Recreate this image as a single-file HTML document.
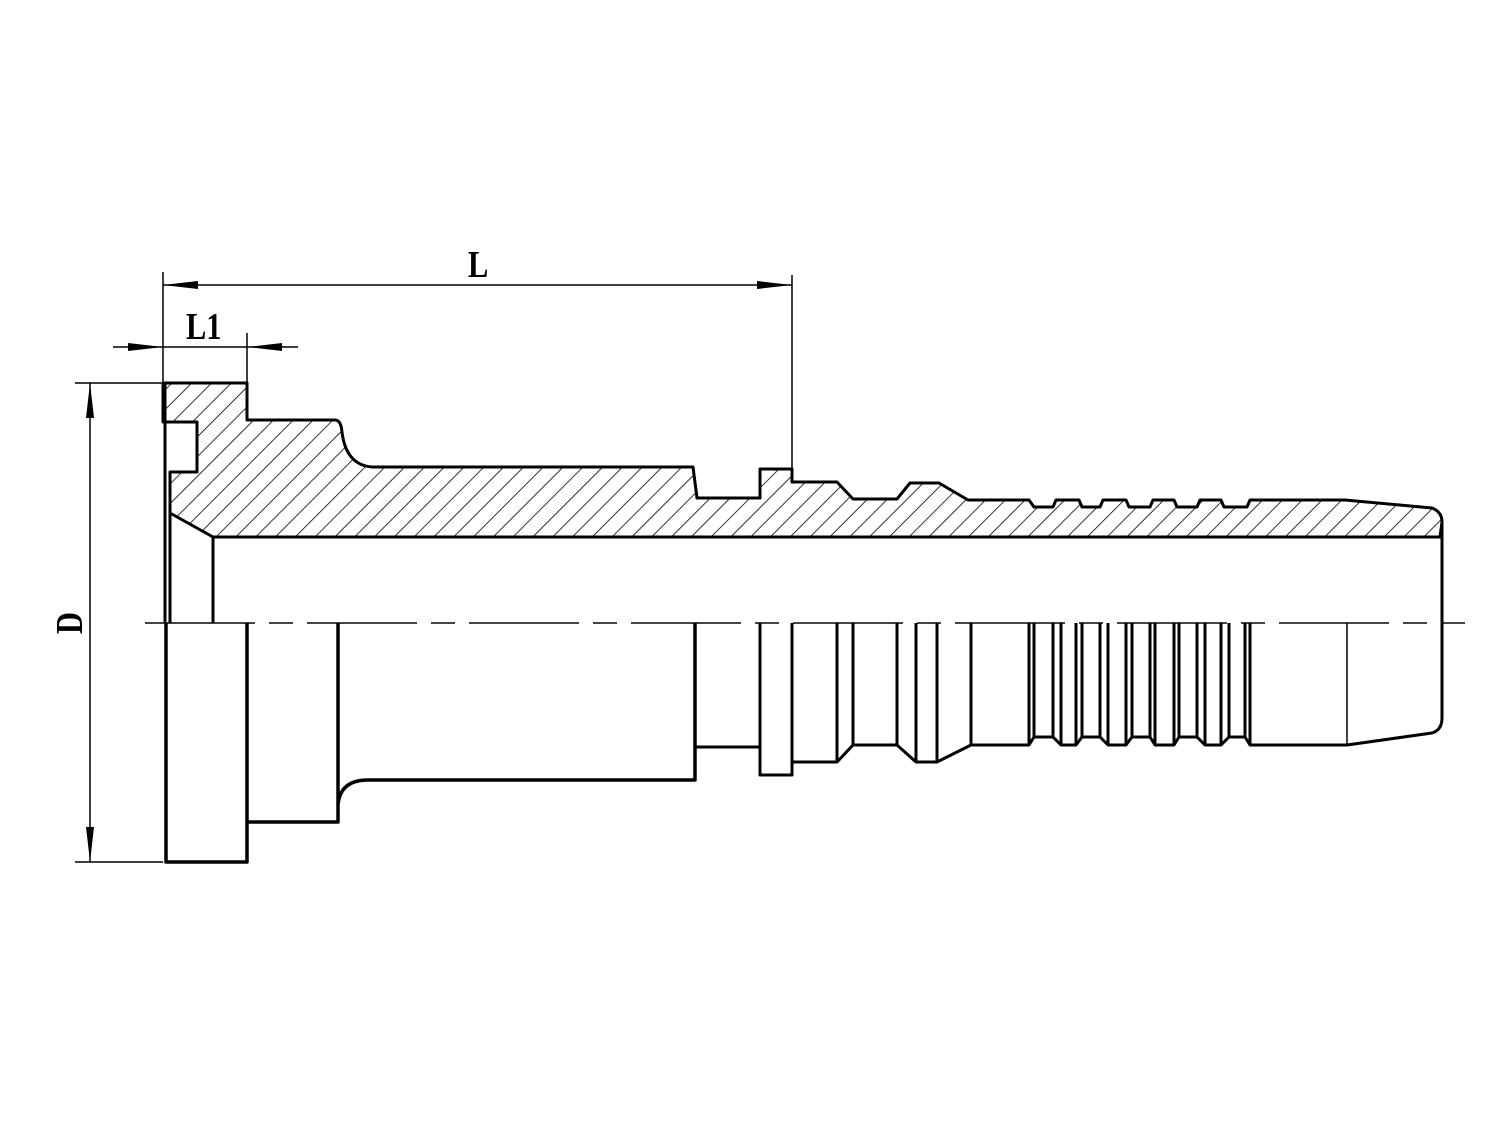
<!DOCTYPE html>
<html><head><meta charset="utf-8"><style>html,body{margin:0;padding:0;background:#fff}svg{display:block}</style></head><body>
<svg width="1500" height="1137" viewBox="0 0 1500 1137" xmlns="http://www.w3.org/2000/svg">
<defs>
<pattern id="h" patternUnits="userSpaceOnUse" width="14" height="14" patternTransform="rotate(45)">
<line x1="0" y1="0" x2="0" y2="14" stroke="#000" stroke-width="1.6"/>
</pattern>
</defs>
<g fill="none" stroke="#000" stroke-linejoin="round">
<path d="M145,623 H1465" stroke="#444" stroke-width="2" stroke-dasharray="110,14,24,14"/>
<path d="M163,383 L247,383 L247,420 L335,420 Q341,420 342,432 Q346,465 372,467 L693,467 L697,498 L760,498 L760,469 L792,469 L792,482 L837,482 L853,499 L897,499 L910,483 L939,483 L968,500 L1029,500 L1034,507 L1053,507 L1056,500 L1079,500 L1082,507 L1100,507 L1103,500 L1126,500 L1129,507 L1150,507 L1153,500 L1174,500 L1177,507 L1197,507 L1200,500 L1221,500 L1224,507 L1247,507 L1250,500 L1345,500 L1432,508 Q1442,512 1442,522 L1440,537 L213,537 L170,513 L170,472 L197,472 L197,422 L163,422 Z" fill="url(#h)" stroke-width="3"/>
<path d="M165,383 V623 M170,472 V623 M213,537 V623 M1442,522 V623" stroke-width="3"/>
<path d="M166,623 V862 H247 V623 M247,822 H338 V623 M338,805 Q340,780 368,780 H695 V623" stroke-width="3.5"/>
<path d="M695,747 H760 M760,623 V775 H792 V623 M792,762 H837 L853,745 H897 L916,762 H937 L971,745 H1029 L1034,737 H1053 L1061,745 H1076 L1082,737 H1100 L1108,745 H1126 L1132,737 H1150 L1155,745 H1174 L1179,737 H1197 L1205,745 H1221 L1229,737 H1245 L1250,745 H1347 L1432,733 Q1442,730 1442,718 V623" stroke-width="3"/>
<path d="M837,623V762 M853,623V745 M897,623V745 M916,623V762 M937,623V762 M971,623V745 M1029,623V745 M1034,623V737 M1053,623V737 M1061,623V745 M1076,623V745 M1082,623V737 M1100,623V737 M1108,623V745 M1126,623V745 M1132,623V737 M1150,623V737 M1155,623V745 M1174,623V745 M1179,623V737 M1197,623V737 M1205,623V745 M1221,623V745 M1229,623V737 M1245,623V737 M1250,623V745" stroke-width="3"/>
<path d="M1347,623V745" stroke-width="1.5"/>
<path d="M163,272V383 M792,275V469 M163,285H792 M113,347H298 M247,333V383 M75,383H163 M75,862H163 M90,383V862" stroke-width="1.5"/>
</g>
<g fill="#000">
<path d="M163,285 L198,281 L198,289Z M792,285 L757,281 L757,289Z"/>
<path d="M163,347 L128,343 L128,351Z M247,347 L282,343 L282,351Z"/>
<path d="M90,383 L86,418 L94,418Z M90,862 L86,827 L94,827Z"/>
</g>
<g font-family="Liberation Serif, serif" font-size="38" font-weight="bold" fill="#000">
<text x="468" y="277" transform="translate(468,0) scale(0.8,1) translate(-468,0)">L</text>
<text x="186" y="339" transform="translate(186,0) scale(0.8,1) translate(-186,0)">L1</text>
<text transform="translate(82,623) rotate(-90) scale(0.8,1)" text-anchor="middle">D</text>
</g>
</svg>
</body></html>
